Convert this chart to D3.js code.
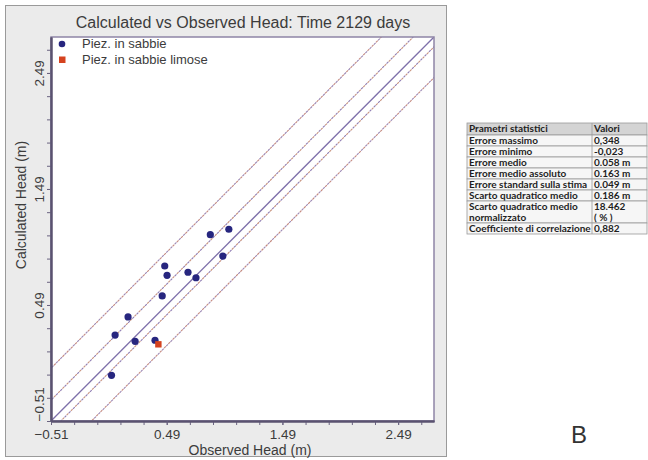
<!DOCTYPE html>
<html>
<head>
<meta charset="utf-8">
<script src="https://cdn.jsdelivr.net/npm/d3@7"></script>
<style>
	body { margin: 0; background: #fff; }
	svg { display: block; }
	.title { font-family: "Liberation Sans", Arial, sans-serif; font-size: 16px; fill: #3c3c3c; }
	.axis-text { font-family: "Liberation Sans", Arial, sans-serif; font-size: 14px; fill: #3c3c3c; }
	.tick-text { font-family: "Liberation Sans", Arial, sans-serif; font-size: 13.5px; fill: #3c3c3c; }
	.legend-text { font-family: "Liberation Sans", Arial, sans-serif; font-size: 13px; fill: #3c3c3c; }
	.cell-text { font-family: "Lato", "Liberation Sans", sans-serif; font-size: 10px; font-weight: bold; fill: #1e1e1e; }
</style>
</head>
<body>
<svg id="chart" width="648" height="460"></svg>
<script>
// values
var sabbieObserved = [0.867, 1.027, 0.975, 0.473, 0.493, 0.674, 0.743, 0.451, 0.156, 0.044, 0.217, 0.389, 0.013];
var sabbieCalculated = [1.096, 1.143, 0.912, 0.826, 0.746, 0.772, 0.725, 0.568, 0.387, 0.231, 0.177, 0.186, -0.116];
var limoseObserved = [0.418];
var limoseCalculated = [0.151];

var axisDomain = [-0.51, 2.80];
var majorTicks = [-0.51, 0.49, 1.49, 2.49];
var minorStep = 0.2;

// offsets of the 1:1 line and the two interval bands
var oneToOne = 0;
var confidenceOffsets = [-0.085, 0.18];
var intervalOffsets = [-0.35, 0.455];

var legendLabels = ["Piez. in sabbie", "Piez. in sabbie limose"];

var statNames = ["Errore massimo", "Errore minimo", "Errore medio", "Errore medio assoluto",
	"Errore standard sulla stima", "Scarto quadratico medio", "Scarto quadratico medio\nnormalizzato",
	"Coefficiente di correlazione"];
var statValues = ["0,348", "-0,023", "0.058 m", "0.163 m", "0.049 m", "0.186 m", "18.462\n( % )", "0,882"];

drawChart();

function drawChart() {
	var svg = d3.select("#chart");

	// outer grey panel
	svg.append("rect")
		.attr("x", 5.5).attr("y", 5.5)
		.attr("width", 441).attr("height", 451)
		.attr("fill", "#ebebeb")
		.attr("stroke", "#9a9a9a");

	var left = 51, right = 434, top = 37, bottom = 421;
	var x = d3.scaleLinear().domain(axisDomain).range([left, right]);
	var y = d3.scaleLinear().domain(axisDomain).range([bottom, top]);

	svg.append("rect")
		.attr("x", left).attr("y", top)
		.attr("width", right - left).attr("height", bottom - top)
		.attr("fill", "#fff");

	svg.append("text")
		.attr("class", "title")
		.attr("x", 243).attr("y", 28)
		.attr("text-anchor", "middle")
		.text("Calculated vs Observed Head: Time 2129 days");

	svg.append("clipPath").attr("id", "plot-clip")
		.append("rect")
		.attr("x", left).attr("y", top)
		.attr("width", right - left).attr("height", bottom - top);

	var lines = svg.append("g").attr("clip-path", "url(#plot-clip)");
	intervalOffsets.forEach(function(off) { drawDiagonal(lines, x, y, off, "#c48a80", "#9c88b4"); });
	confidenceOffsets.forEach(function(off) { drawDiagonal(lines, x, y, off, "#c89480", "#8f7cb2"); });
	lines.append("line")
		.attr("x1", x(axisDomain[0])).attr("y1", y(axisDomain[0] + oneToOne))
		.attr("x2", x(axisDomain[1])).attr("y2", y(axisDomain[1] + oneToOne))
		.attr("stroke", "#7e70aa")
		.attr("stroke-width", 1.3);

	// frame
	svg.append("rect")
		.attr("x", left).attr("y", top)
		.attr("width", right - left).attr("height", bottom - top)
		.attr("fill", "none")
		.attr("stroke", "#8f85a6")
		.attr("stroke-width", 1.5);

	var minorTicks = d3.range(axisDomain[0], axisDomain[1], minorStep);

	var xMinor = svg.append("g")
		.attr("transform", "translate(0," + bottom + ")")
		.call(d3.axisBottom(x).tickValues(minorTicks).tickSize(4).tickSizeOuter(0).tickFormat(""));
	var xMajor = svg.append("g")
		.attr("transform", "translate(0," + bottom + ")")
		.call(d3.axisBottom(x).tickValues(majorTicks).tickSize(4).tickSizeOuter(0).tickFormat(d3.format(".2f")));
	var yMinor = svg.append("g")
		.attr("transform", "translate(" + left + ",0)")
		.call(d3.axisLeft(y).tickValues(minorTicks).tickSize(4).tickSizeOuter(0).tickFormat(""));
	var yMajor = svg.append("g")
		.attr("transform", "translate(" + left + ",0)")
		.call(d3.axisLeft(y).tickValues(majorTicks).tickSize(4).tickSizeOuter(0).tickFormat(d3.format(".2f")));

	[xMinor, xMajor, yMinor, yMajor].forEach(function(g) {
		g.attr("font-size", null).attr("font-family", null);
		g.select(".domain").attr("stroke", "#5a5270").attr("stroke-width", 2);
		g.selectAll(".tick line").attr("stroke", "#6a6380");
	});

	xMajor.selectAll(".tick text")
		.attr("class", "tick-text")
		.attr("fill", "#3c3c3c")
		.attr("y", 18).attr("dy", null);

	yMajor.selectAll(".tick text")
		.attr("class", "tick-text")
		.attr("fill", "#3c3c3c")
		.attr("x", null).attr("dy", null)
		.attr("text-anchor", function(d) { return d === majorTicks[0] ? "start" : "middle"; })
		.attr("transform", "translate(-7,0) rotate(-90)");

	svg.append("text")
		.attr("class", "axis-text")
		.attr("x", 250).attr("y", 455)
		.attr("text-anchor", "middle")
		.text("Observed Head (m)");

	svg.append("text")
		.attr("class", "axis-text")
		.attr("transform", "translate(26,205) rotate(-90)")
		.attr("text-anchor", "middle")
		.text("Calculated Head (m)");

	// points
	svg.append("g").selectAll("circle")
		.data(d3.range(sabbieObserved.length))
		.join("circle")
		.attr("cx", function(i) { return x(sabbieObserved[i]); })
		.attr("cy", function(i) { return y(sabbieCalculated[i]); })
		.attr("r", 3.6)
		.attr("fill", "#27267f");

	svg.append("g").selectAll("rect")
		.data(d3.range(limoseObserved.length))
		.join("rect")
		.attr("x", function(i) { return x(limoseObserved[i]) - 3.2; })
		.attr("y", function(i) { return y(limoseCalculated[i]) - 3.2; })
		.attr("width", 6.4).attr("height", 6.4)
		.attr("fill", "#d5431f");

	// legend
	svg.append("circle").attr("cx", 62).attr("cy", 44).attr("r", 3.3).attr("fill", "#27267f");
	svg.append("rect").attr("x", 59).attr("y", 56.5).attr("width", 6.5).attr("height", 6.5).attr("fill", "#d5431f");
	svg.append("text").attr("class", "legend-text").attr("x", 82).attr("y", 48).text(legendLabels[0]);
	svg.append("text").attr("class", "legend-text").attr("x", 82).attr("y", 64).text(legendLabels[1]);

	drawStatTable(svg, 467, 123);

	svg.append("text")
		.attr("x", 579).attr("y", 443)
		.attr("text-anchor", "middle")
		.attr("font-family", "Liberation Sans, Arial, sans-serif")
		.attr("font-size", 24)
		.attr("fill", "#333")
		.text("B");
}

function drawDiagonal(g, x, y, off, c1, c2) {
	var x0 = axisDomain[0] - 1, x1 = axisDomain[1] + 1;
	g.append("line")
		.attr("x1", x(x0)).attr("y1", y(x0 + off))
		.attr("x2", x(x1)).attr("y2", y(x1 + off))
		.attr("stroke", c1)
		.attr("stroke-width", 1.1)
		.attr("stroke-dasharray", "2.5,3.5");
	g.append("line")
		.attr("x1", x(x0)).attr("y1", y(x0 + off))
		.attr("x2", x(x1)).attr("y2", y(x1 + off))
		.attr("stroke", c2)
		.attr("stroke-width", 1.1)
		.attr("stroke-dasharray", "2.5,3.5")
		.attr("stroke-dashoffset", 3);
}

function drawStatTable(svg, tx, ty) {
	var colSplit = 125, width = 180;
	var headerH = 12, rowH = 11;
	var g = svg.append("g").attr("transform", "translate(" + tx + "," + ty + ")");

	var rows = [["Prametri statistici", "Valori"]];
	for (var i = 0; i < statNames.length; i++) rows.push([statNames[i], statValues[i]]);

	var yy = 0;
	rows.forEach(function(r, i) {
		var nLines = r[0].split("\n").length;
		var h = i === 0 ? headerH : rowH * nLines;
		g.append("rect")
			.attr("x", 0).attr("y", yy)
			.attr("width", width).attr("height", h)
			.attr("fill", i === 0 ? "#d4d4d4" : "#f6f6f6")
			.attr("stroke", "#9a9a9a")
			.attr("stroke-width", 0.8);
		g.append("line")
			.attr("x1", colSplit).attr("x2", colSplit)
			.attr("y1", yy).attr("y2", yy + h)
			.attr("stroke", "#9a9a9a").attr("stroke-width", 0.8);
		[0, 1].forEach(function(c) {
			r[c].split("\n").forEach(function(t, k) {
				g.append("text")
					.attr("class", "cell-text")
					.attr("x", c === 0 ? 2 : colSplit + 2)
					.attr("y", yy + 9 + k * rowH)
					.text(t);
			});
		});
		yy += h;
	});
}
</script>
</body>
</html>
